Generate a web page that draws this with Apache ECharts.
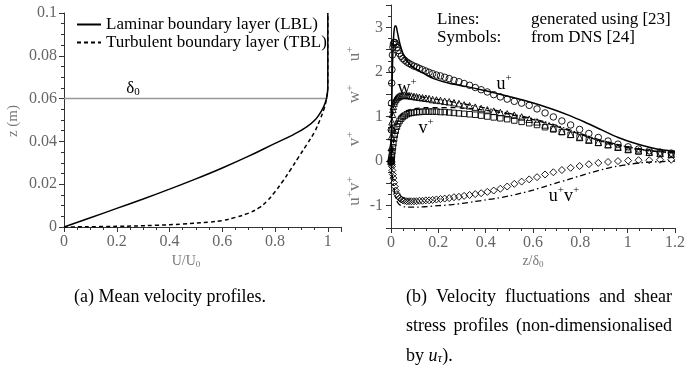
<!DOCTYPE html>
<html><head><meta charset="utf-8">
<script src="https://cdn.jsdelivr.net/npm/echarts@6/dist/echarts.min.js"></script>
<style>html,body{margin:0;padding:0;background:#fff}#c{width:688px;height:372px}</style>
</head><body><div id="c"></div>
<script>
// ---------- Left panel: mean velocity profiles ----------
const lblU = [0, 0.1, 0.2, 0.3, 0.4, 0.5, 0.6, 0.7, 0.8, 0.87, 0.92, 0.955, 0.975, 0.99, 0.998, 1.0, 1.0];
const lblZ = [0, 0.0043, 0.0087, 0.0131, 0.0177, 0.0225, 0.0276, 0.0331, 0.0391, 0.0432, 0.0468, 0.0505, 0.054, 0.058, 0.062, 0.066, 0.1];
const tblU = [0, 0.2, 0.35, 0.45, 0.55, 0.6, 0.65, 0.7, 0.74, 0.77, 0.8, 0.83, 0.86, 0.89, 0.92, 0.95, 0.97, 0.985, 0.995, 1.0, 1.0];
const tblZ = [0, 0.0003, 0.0008, 0.0014, 0.0023, 0.003, 0.0045, 0.0065, 0.009, 0.0122, 0.0165, 0.0215, 0.027, 0.0328, 0.0385, 0.0445, 0.05, 0.055, 0.06, 0.066, 0.1];
const deltaLevel = 0.06;
const deltaU = [0, 1.0];
const leftNames = ['Laminar boundary layer (LBL)', 'Turbulent boundary layer (TBL)'];

// ---------- Right panel: DNS symbols ----------
const zDNS = [0, 0.001, 0.002, 0.003, 0.004, 0.006, 0.008, 0.010, 0.013, 0.016, 0.020, 0.025, 0.030, 0.036, 0.043, 0.050, 0.058, 0.067, 0.076, 0.086, 0.097, 0.108, 0.120, 0.133, 0.147, 0.161, 0.176, 0.192, 0.209, 0.227, 0.246, 0.266, 0.287, 0.309, 0.332, 0.356, 0.381, 0.407, 0.434, 0.462, 0.491, 0.521, 0.552, 0.584, 0.617, 0.651, 0.686, 0.722, 0.759, 0.797, 0.836, 0.876, 0.917, 0.959, 1.002, 1.046, 1.091, 1.137, 1.184];
const uDNS = [0, 0.7, 1.3, 1.75, 2.05, 2.38, 2.55, 2.62, 2.66, 2.66, 2.62, 2.55, 2.48, 2.41, 2.35, 2.3, 2.26, 2.22, 2.19, 2.16, 2.13, 2.11, 2.08, 2.05, 2.02, 1.99, 1.96, 1.93, 1.91, 1.88, 1.85, 1.81, 1.78, 1.74, 1.7, 1.65, 1.6, 1.55, 1.49, 1.44, 1.39, 1.34, 1.3, 1.25, 1.17, 1.08, 0.99, 0.9, 0.81, 0.71, 0.62, 0.53, 0.45, 0.38, 0.32, 0.27, 0.23, 0.2, 0.18];
const wDNS = [0, 0.3, 0.55, 0.75, 0.88, 1.05, 1.16, 1.23, 1.3, 1.35, 1.39, 1.42, 1.44, 1.46, 1.47, 1.48, 1.48, 1.47, 1.47, 1.46, 1.45, 1.44, 1.43, 1.42, 1.41, 1.4, 1.38, 1.37, 1.36, 1.34, 1.33, 1.31, 1.29, 1.26, 1.24, 1.21, 1.18, 1.15, 1.12, 1.09, 1.06, 1.03, 0.99, 0.94, 0.88, 0.81, 0.74, 0.67, 0.6, 0.53, 0.47, 0.42, 0.37, 0.31, 0.26, 0.23, 0.2, 0.17, 0.15];
const vDNS = [0, 0.02, 0.05, 0.09, 0.13, 0.22, 0.31, 0.4, 0.5, 0.59, 0.68, 0.77, 0.84, 0.9, 0.95, 0.99, 1.02, 1.05, 1.07, 1.08, 1.09, 1.1, 1.1, 1.11, 1.11, 1.11, 1.11, 1.11, 1.1, 1.1, 1.09, 1.08, 1.07, 1.06, 1.05, 1.04, 1.02, 1.0, 0.98, 0.96, 0.94, 0.91, 0.88, 0.85, 0.81, 0.76, 0.71, 0.65, 0.59, 0.53, 0.47, 0.41, 0.36, 0.31, 0.26, 0.22, 0.19, 0.17, 0.15];
const uvDNS = [0, -0.01, -0.04, -0.08, -0.12, -0.21, -0.3, -0.38, -0.48, -0.57, -0.66, -0.74, -0.79, -0.83, -0.86, -0.88, -0.89, -0.9, -0.9, -0.9, -0.9, -0.9, -0.89, -0.89, -0.88, -0.88, -0.87, -0.86, -0.85, -0.84, -0.83, -0.81, -0.8, -0.78, -0.76, -0.74, -0.72, -0.69, -0.66, -0.62, -0.57, -0.51, -0.46, -0.41, -0.36, -0.3, -0.25, -0.2, -0.15, -0.11, -0.07, -0.04, -0.02, 0.0, 0.01, 0.02, 0.02, 0.03, 0.03];

// ---------- Right panel: generated lines ----------
const zU = [0, 0.002, 0.004, 0.006, 0.008, 0.010, 0.013, 0.017, 0.021, 0.026, 0.032, 0.04, 0.05, 0.06, 0.075, 0.09, 0.11, 0.14, 0.18, 0.25, 0.32, 0.39, 0.46, 0.52, 0.59, 0.68, 0.75, 0.82, 0.89, 0.96, 1.03, 1.1, 1.15, 1.2];
const uLine = [0, 0.8, 1.5, 2.05, 2.45, 2.7, 2.92, 3.03, 3.03, 2.92, 2.76, 2.58, 2.42, 2.31, 2.2, 2.12, 2.05, 1.96, 1.85, 1.74, 1.67, 1.59, 1.5, 1.42, 1.32, 1.17, 1.03, 0.87, 0.7, 0.53, 0.4, 0.3, 0.25, 0.22];
const zL = [0, 0.004, 0.008, 0.012, 0.017, 0.023, 0.03, 0.04, 0.055, 0.07, 0.09, 0.12, 0.15, 0.2, 0.25, 0.3, 0.35, 0.4, 0.45, 0.5, 0.55, 0.6, 0.65, 0.7, 0.75, 0.8, 0.85, 0.9, 0.95, 1.0, 1.05, 1.1, 1.15, 1.2];
const vLine = [0, 0.12, 0.3, 0.48, 0.65, 0.8, 0.92, 1.02, 1.1, 1.14, 1.17, 1.19, 1.2, 1.2, 1.2, 1.19, 1.17, 1.14, 1.1, 1.05, 0.99, 0.93, 0.86, 0.78, 0.69, 0.6, 0.51, 0.43, 0.36, 0.3, 0.26, 0.23, 0.21, 0.2];
const wLine = [0, 0.85, 1.15, 1.3, 1.4, 1.46, 1.49, 1.51, 1.51, 1.5, 1.48, 1.45, 1.42, 1.38, 1.34, 1.29, 1.24, 1.19, 1.13, 1.07, 1.01, 0.95, 0.88, 0.8, 0.71, 0.62, 0.53, 0.45, 0.38, 0.32, 0.27, 0.23, 0.2, 0.18];
const uvLine = [0, -0.2, -0.42, -0.6, -0.76, -0.87, -0.94, -0.99, -1.02, -1.03, -1.03, -1.03, -1.02, -1.0, -0.98, -0.95, -0.91, -0.87, -0.83, -0.78, -0.72, -0.65, -0.57, -0.49, -0.41, -0.33, -0.25, -0.18, -0.12, -0.08, -0.04, -0.02, -0.01, 0.0];

const SERIF = 'Liberation Serif';
const pair = (xs, ys) => xs.map((x, i) => [x, ys[i]]);

function axisBase(extra) {
  return Object.assign({
    type: 'value',
    axisLine: { show: true, onZero: false, lineStyle: { color: '#333', width: 1 } },
    axisTick: { show: true, inside: false, length: 5, lineStyle: { color: '#333' } },
    minorTick: { show: true, splitNumber: 4, length: 3, lineStyle: { color: '#333' } },
    splitLine: { show: false },
    minorSplitLine: { show: false },
    axisLabel: { color: '#666', fontFamily: SERIF, fontSize: 16, margin: 7 }
  }, extra);
}

function symSeries(vals, symbol, size) {
  return {
    type: 'line', xAxisIndex: 1, yAxisIndex: 1, data: pair(zDNS, vals),
    symbol: symbol, symbolSize: size, showAllSymbol: true,
    lineStyle: { width: 0, opacity: 0 },
    itemStyle: { color: 'rgba(255,255,255,0)', borderColor: '#000', borderWidth: 0.9 },
    silent: true, z: 3
  };
}
function lineSeries(xs, ys, type, width) {
  return {
    type: 'line', xAxisIndex: 1, yAxisIndex: 1, data: pair(xs, ys),
    symbol: 'none', smooth: 0.3, lineStyle: { color: '#000', width: width, type: type }, silent: true, z: 4
  };
}

function supText(x, y, parts, size, color, rot) {
  const rich = { b: { fontSize: size, fontFamily: SERIF, fill: color, verticalAlign: 'bottom', lineHeight: size + 2 },
                 s: { fontSize: Math.round(size * 0.62), fontFamily: SERIF, fill: color, verticalAlign: 'top', lineHeight: Math.round(size * 0.62) } };
  const text = parts.map(p => p[1] ? '{s|' + p[0] + '}' : '{b|' + p[0] + '}').join('');
  return { type: 'text', x: x, y: y, rotation: rot || 0, silent: true,
    style: { text: text, rich: rich, align: 'center', verticalAlign: 'middle' } };
}

const graphics = [];
// left annotations
graphics.push({ type: 'text', x: 133, y: 89, silent: true, style: { text: '{b|δ}{s|0}', rich: {
  b: { fontSize: 17, fontFamily: SERIF, fill: '#000', verticalAlign: 'top', lineHeight: 17 },
  s: { fontSize: 11, fontFamily: SERIF, fill: '#000', verticalAlign: 'bottom', lineHeight: 11 } }, align: 'center', verticalAlign: 'middle' } });
graphics.push({ type: 'text', x: 186, y: 262, silent: true, style: { text: '{b|U/U}{s|0}', rich: {
  b: { fontSize: 14, fontFamily: SERIF, fill: '#777', verticalAlign: 'top', lineHeight: 15 },
  s: { fontSize: 9, fontFamily: SERIF, fill: '#777', verticalAlign: 'bottom', lineHeight: 9 } }, align: 'center', verticalAlign: 'middle' } });
graphics.push({ type: 'text', x: 13, y: 121, rotation: Math.PI / 2, silent: true, style: { text: 'z (m)', fontSize: 15, fontFamily: SERIF, fill: '#777', align: 'center', verticalAlign: 'middle' } });
// right annotations
graphics.push({ type: 'text', x: 533, y: 262, silent: true, style: { text: '{b|z/δ}{s|0}', rich: {
  b: { fontSize: 14, fontFamily: SERIF, fill: '#777', verticalAlign: 'top', lineHeight: 15 },
  s: { fontSize: 9, fontFamily: SERIF, fill: '#777', verticalAlign: 'bottom', lineHeight: 9 } }, align: 'center', verticalAlign: 'middle' } });
graphics.push({ type: 'text', x: 437, y: 20, silent: true, style: { text: 'Lines:', fontSize: 17, fontFamily: SERIF, fill: '#000', align: 'left', verticalAlign: 'middle' } });
graphics.push({ type: 'text', x: 531, y: 20, silent: true, style: { text: 'generated using [23]', fontSize: 17, fontFamily: SERIF, fill: '#000', align: 'left', verticalAlign: 'middle' } });
graphics.push({ type: 'text', x: 437, y: 38, silent: true, style: { text: 'Symbols:', fontSize: 17, fontFamily: SERIF, fill: '#000', align: 'left', verticalAlign: 'middle' } });
graphics.push({ type: 'text', x: 531, y: 38, silent: true, style: { text: 'from DNS [24]', fontSize: 17, fontFamily: SERIF, fill: '#000', align: 'left', verticalAlign: 'middle' } });
graphics.push(supText(504, 83, [['u'], ['+', 1]], 18, '#000'));
graphics.push(supText(407, 87, [['w'], ['+', 1]], 18, '#000'));
graphics.push(supText(426, 127, [['v'], ['+', 1]], 18, '#000'));
graphics.push(supText(564, 195, [['u'], ['+', 1], ['v'], ['+', 1]], 18, '#000'));
graphics.push(supText(354, 54, [['u'], ['+', 1]], 17, '#777', Math.PI / 2));
graphics.push(supText(354, 94, [['w'], ['+', 1]], 17, '#777', Math.PI / 2));
graphics.push(supText(354, 139, [['v'], ['+', 1]], 17, '#777', Math.PI / 2));
graphics.push(supText(354, 191, [['u'], ['+', 1], ['v'], ['+', 1]], 17, '#777', Math.PI / 2));

// captions
const capSize = 18;
const cctx = document.createElement('canvas').getContext('2d');
cctx.font = capSize + 'px "' + SERIF + '"';
function capLine(text, x, y, align) {
  graphics.push({ type: 'text', x: x, y: y, silent: true, style: { text: text, fontSize: capSize, fontFamily: SERIF, fill: '#000', align: align || 'left', verticalAlign: 'middle' } });
}
function justified(words, x0, x1, y) {
  const ws = words.map(w => cctx.measureText(w).width);
  const tot = ws.reduce((a, b) => a + b, 0);
  const gap = (x1 - x0 - tot) / (words.length - 1);
  let x = x0;
  words.forEach((w, i) => { capLine(w, x, y); x += ws[i] + gap; });
}
capLine('(a) Mean velocity profiles.', 170, 297, 'center');
justified(['(b)', 'Velocity', 'fluctuations', 'and', 'shear'], 406, 672, 297);
justified(['stress', 'profiles', '(non-dimensionalised'], 406, 672, 326);
graphics.push({ type: 'text', x: 406, y: 354, silent: true, style: { text: '{n|by }{i|u}{t|τ}{n|).}', rich: {
  n: { fontSize: capSize, fontFamily: SERIF, fill: '#000', verticalAlign: 'bottom', lineHeight: 22 },
  i: { fontSize: capSize, fontFamily: SERIF, fontStyle: 'italic', fill: '#000', verticalAlign: 'bottom', lineHeight: 22 },
  t: { fontSize: 13, fontFamily: SERIF, fontStyle: 'italic', fill: '#000', verticalAlign: 'bottom', lineHeight: 13 } }, align: 'left', verticalAlign: 'middle' } });

const isMult = (v, s) => Math.abs(v / s - Math.round(v / s)) < 1e-6;

const option = {
  animation: false,
  backgroundColor: '#fff',
  grid: [
    { left: 64, top: 13, width: 277, height: 214 },
    { left: 391, top: 5, width: 285, height: 223 }
  ],
  legend: {
    data: leftNames, orient: 'vertical', left: 71, top: 11, itemWidth: 24, itemHeight: 12, itemGap: 1,
    itemStyle: { opacity: 0, borderWidth: 0 },
    textStyle: { fontFamily: SERIF, fontSize: 17, color: '#000', lineHeight: 17 }, selectedMode: false
  },
  xAxis: [
    axisBase({ gridIndex: 0, min: 0, max: 1.05, interval: 0.2,
      axisLabel: { color: '#666', fontFamily: SERIF, fontSize: 16, margin: 7, formatter: v => isMult(v, 0.2) ? String(+v.toFixed(1)) : '' } }),
    axisBase({ gridIndex: 1, min: 0, max: 1.2, interval: 0.2 })
  ],
  yAxis: [
    axisBase({ gridIndex: 0, min: 0, max: 0.1, interval: 0.02,
      axisLabel: { color: '#666', fontFamily: SERIF, fontSize: 16, margin: 7, formatter: v => String(+v.toFixed(2)) } }),
    axisBase({ gridIndex: 1, min: -1.5, max: 3.5, interval: 0.5,
      minorTick: { show: true, splitNumber: 2, length: 3, lineStyle: { color: '#333' } },
      axisLabel: { color: '#666', fontFamily: SERIF, fontSize: 16, margin: 8, formatter: v => isMult(v, 1) ? String(Math.round(v)) : '' } })
  ],
  series: [
    { type: 'line', xAxisIndex: 0, yAxisIndex: 0, data: pair(deltaU, [deltaLevel, deltaLevel]), symbol: 'none',
      lineStyle: { color: '#999', width: 1.5 }, silent: true, z: 1 },
    { type: 'line', name: leftNames[0], xAxisIndex: 0, yAxisIndex: 0, data: pair(lblU, lblZ), symbol: 'none', smooth: 0.4,
      lineStyle: { color: '#000', width: 1.5, type: 'solid' }, itemStyle: { color: '#000' }, z: 3 },
    { type: 'line', name: leftNames[1], xAxisIndex: 0, yAxisIndex: 0, data: pair(tblU, tblZ), symbol: 'none', smooth: 0.4,
      lineStyle: { color: '#000', width: 1.5, type: [4, 3] }, itemStyle: { color: '#000' }, z: 3 },
    symSeries(uDNS, 'circle', 6.5),
    symSeries(wDNS, 'triangle', 6.5),
    symSeries(vDNS, 'rect', 5.5),
    symSeries(uvDNS, 'diamond', 7),
    lineSeries(zU, uLine, 'solid', 1.5),
    lineSeries(zL, vLine, [5, 4], 1.3),
    lineSeries(zL, wLine, [6, 2, 1.5, 2, 1.5, 2], 1.2),
    lineSeries(zL, uvLine, [6, 3, 1.5, 3], 1.3)
  ],
  graphic: graphics
};
const chart = echarts.init(document.getElementById('c'), null, { renderer: 'canvas' });
chart.setOption(option);
</script></body></html>
